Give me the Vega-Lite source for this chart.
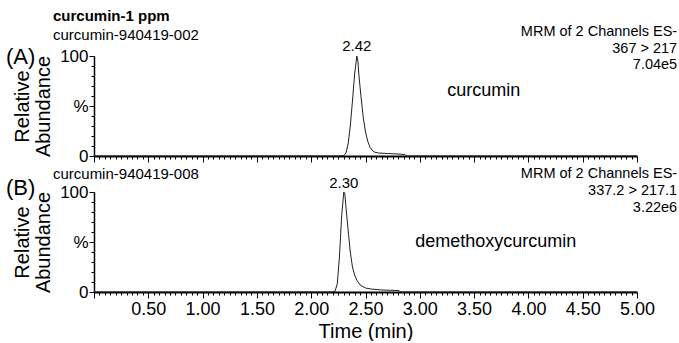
{
  "$schema": "https://vega.github.io/schema/vega-lite/v6.json",
  "padding": {"left": 6, "top": 9, "right": 2, "bottom": 0},
  "background": "white",
  "config": {
    "font": "Liberation Sans",
    "view": {"stroke": null},
    "axis": {"grid": false, "ticks": true, "labelOverlap": false, "labelFlush": false, "domainColor": "#000", "tickColor": "#000", "labelColor": "#000", "titleColor": "#000", "titleFontWeight": "normal", "labelFont": "Liberation Sans", "titleFont": "Liberation Sans"},
    "text": {"color": "#000"}
  },
  "spacing": 36,
  "bounds": "flush",
  "vconcat": [
    {
      "width": 543,
      "height": 100,
      "encoding": {
        "x": {"field": "t", "type": "quantitative", "scale": {"domain": [0, 5], "nice": false, "zero": false},
          "axis": {"values": [0,0.05,0.1,0.15,0.2,0.25,0.3,0.35,0.4,0.45,0.5,0.55,0.6,0.65,0.7,0.75,0.8,0.85,0.9,0.95,1,1.05,1.1,1.15,1.2,1.25,1.3,1.35,1.4,1.45,1.5,1.55,1.6,1.65,1.7,1.75,1.8,1.85,1.9,1.95,2,2.05,2.1,2.15,2.2,2.25,2.3,2.35,2.4,2.45,2.5,2.55,2.6,2.65,2.7,2.75,2.8,2.85,2.9,2.95,3,3.05,3.1,3.15,3.2,3.25,3.3,3.35,3.4,3.45,3.5,3.55,3.6,3.65,3.7,3.75,3.8,3.85,3.9,3.95,4,4.05,4.1,4.15,4.2,4.25,4.3,4.35,4.4,4.45,4.5,4.55,4.6,4.65,4.7,4.75,4.8,4.85,4.9,4.95,5],
            "labels": false, "title": null, "domainWidth": 2, "tickWidth": 1,
            "tickSize": {"condition": {"test": "abs(datum.value*2 - round(datum.value*2)) < 0.001", "value": 6}, "value": 3}}},
        "y": {"field": "v", "type": "quantitative", "scale": {"domain": [0, 100], "nice": false},
          "axis": {"values": [0,10,20,30,40,50,60,70,80,90,100], "labelExpr": "datum.value == 100 ? '100' : datum.value == 50 ? '%' : datum.value == 0 ? '0' : ''",
            "labelFontSize": 17, "labelOverlap": false, "labelFlush": false, "labelPadding": 1, "domainWidth": 1.5, "tickWidth": 1,
            "tickSize": {"condition": {"test": "datum.value % 50 == 0", "value": 5}, "value": 3},
            "title": ["Relative", "Abundance"], "titleFontSize": 20, "titleLineHeight": 21, "titlePadding": 6}}
      },
      "layer": [
        {
          "data": {"values": [
            {"t": 0, "v": 0}, {"t": 2.25, "v": 0}, {"t": 2.30, "v": 0.5}, {"t": 2.32, "v": 3}, {"t": 2.34, "v": 12}, {"t": 2.36, "v": 30}, {"t": 2.38, "v": 55}, {"t": 2.40, "v": 82}, {"t": 2.42, "v": 100}, {"t": 2.43, "v": 95}, {"t": 2.44, "v": 80}, {"t": 2.46, "v": 58}, {"t": 2.48, "v": 38}, {"t": 2.50, "v": 24}, {"t": 2.52, "v": 15}, {"t": 2.54, "v": 9}, {"t": 2.56, "v": 6}, {"t": 2.58, "v": 4}, {"t": 2.62, "v": 3}, {"t": 2.70, "v": 2.5}, {"t": 2.80, "v": 2}, {"t": 2.86, "v": 1.5}, {"t": 2.88, "v": 0}, {"t": 5, "v": 0}
          ]},
          "mark": {"type": "line", "color": "#222", "strokeWidth": 1, "clip": false}
        },
        {
          "data": {"values": [{"t": 2.42, "v": 100, "label": "2.42"}]},
          "mark": {"type": "text", "fontSize": 15, "baseline": "bottom", "dy": -2},
          "encoding": {"text": {"field": "label"}}
        },
        {
          "data": {"values": [{"t": 3.59, "v": 65, "label": "curcumin"}]},
          "mark": {"type": "text", "fontSize": 18, "baseline": "middle"},
          "encoding": {"text": {"field": "label"}}
        },
        {
          "data": {"values": [{"t": 5.37, "v": 124, "label": "MRM of 2 Channels ES-"}, {"t": 5.37, "v": 107, "label": "367 > 217"}, {"t": 5.37, "v": 91, "label": "7.04e5"}]},
          "mark": {"type": "text", "fontSize": 14.5, "align": "right", "baseline": "middle"},
          "encoding": {"text": {"field": "label"}}
        },
        {
          "data": {"values": [{"t": -0.81, "v": 99, "label": "(A)"}]},
          "mark": {"type": "text", "fontSize": 22, "align": "left", "baseline": "middle"},
          "encoding": {"text": {"field": "label"}}
        },
        {
          "data": {"values": [{"t": -0.378, "v": 140, "label": "curcumin-1 ppm"}]},
          "mark": {"type": "text", "fontSize": 15, "fontWeight": "bold", "align": "left", "baseline": "middle"},
          "encoding": {"text": {"field": "label"}}
        },
        {
          "data": {"values": [{"t": -0.378, "v": 121, "label": "curcumin-940419-002"}]},
          "mark": {"type": "text", "fontSize": 15, "align": "left", "baseline": "middle"},
          "encoding": {"text": {"field": "label"}}
        }
      ]
    },
    {
      "width": 543,
      "height": 100,
      "encoding": {
        "x": {"field": "t", "type": "quantitative", "scale": {"domain": [0, 5], "nice": false, "zero": false},
          "axis": {"values": [0,0.05,0.1,0.15,0.2,0.25,0.3,0.35,0.4,0.45,0.5,0.55,0.6,0.65,0.7,0.75,0.8,0.85,0.9,0.95,1,1.05,1.1,1.15,1.2,1.25,1.3,1.35,1.4,1.45,1.5,1.55,1.6,1.65,1.7,1.75,1.8,1.85,1.9,1.95,2,2.05,2.1,2.15,2.2,2.25,2.3,2.35,2.4,2.45,2.5,2.55,2.6,2.65,2.7,2.75,2.8,2.85,2.9,2.95,3,3.05,3.1,3.15,3.2,3.25,3.3,3.35,3.4,3.45,3.5,3.55,3.6,3.65,3.7,3.75,3.8,3.85,3.9,3.95,4,4.05,4.1,4.15,4.2,4.25,4.3,4.35,4.4,4.45,4.5,4.55,4.6,4.65,4.7,4.75,4.8,4.85,4.9,4.95,5],
            "labelExpr": "(abs(datum.value*2 - round(datum.value*2)) < 0.001 && datum.value > 0.01) ? format(datum.value, '.2f') : ''",
            "labelFontSize": 18, "labelOverlap": false, "labelFlush": false, "labelBound": false, "labelPadding": 2,
            "domainWidth": 2, "tickWidth": 1,
            "tickSize": {"condition": {"test": "abs(datum.value*2 - round(datum.value*2)) < 0.001", "value": 6}, "value": 3},
            "title": "Time (min)", "titleFontSize": 20, "titlePadding": 3}},
        "y": {"field": "v", "type": "quantitative", "scale": {"domain": [0, 100], "nice": false},
          "axis": {"values": [0,10,20,30,40,50,60,70,80,90,100], "labelExpr": "datum.value == 100 ? '100' : datum.value == 50 ? '%' : datum.value == 0 ? '0' : ''",
            "labelFontSize": 17, "labelOverlap": false, "labelFlush": false, "labelPadding": 1, "domainWidth": 1.5, "tickWidth": 1,
            "tickSize": {"condition": {"test": "datum.value % 50 == 0", "value": 5}, "value": 3},
            "title": ["Relative", "Abundance"], "titleFontSize": 20, "titleLineHeight": 21, "titlePadding": 6}}
      },
      "layer": [
        {
          "data": {"values": [
            {"t": 0, "v": 0}, {"t": 2.20, "v": 0}, {"t": 2.22, "v": 1}, {"t": 2.24, "v": 8}, {"t": 2.26, "v": 35}, {"t": 2.28, "v": 75}, {"t": 2.30, "v": 100}, {"t": 2.31, "v": 98}, {"t": 2.32, "v": 85}, {"t": 2.34, "v": 62}, {"t": 2.36, "v": 40}, {"t": 2.38, "v": 25}, {"t": 2.40, "v": 17}, {"t": 2.42, "v": 12}, {"t": 2.45, "v": 7}, {"t": 2.50, "v": 4}, {"t": 2.55, "v": 3}, {"t": 2.65, "v": 2}, {"t": 2.80, "v": 1.5}, {"t": 2.83, "v": 0}, {"t": 5, "v": 0}
          ]},
          "mark": {"type": "line", "color": "#222", "strokeWidth": 1, "clip": false}
        },
        {
          "data": {"values": [{"t": 2.30, "v": 100, "label": "2.30"}]},
          "mark": {"type": "text", "fontSize": 15, "baseline": "bottom", "dy": -1},
          "encoding": {"text": {"field": "label"}}
        },
        {
          "data": {"values": [{"t": 3.70, "v": 50, "label": "demethoxycurcumin"}]},
          "mark": {"type": "text", "fontSize": 18, "baseline": "middle"},
          "encoding": {"text": {"field": "label"}}
        },
        {
          "data": {"values": [{"t": 5.37, "v": 118, "label": "MRM of 2 Channels ES-"}, {"t": 5.37, "v": 101, "label": "337.2 > 217.1"}, {"t": 5.37, "v": 84, "label": "3.22e6"}]},
          "mark": {"type": "text", "fontSize": 14.5, "align": "right", "baseline": "middle"},
          "encoding": {"text": {"field": "label"}}
        },
        {
          "data": {"values": [{"t": -0.81, "v": 104, "label": "(B)"}]},
          "mark": {"type": "text", "fontSize": 22, "align": "left", "baseline": "middle"},
          "encoding": {"text": {"field": "label"}}
        },
        {
          "data": {"values": [{"t": -0.378, "v": 118, "label": "curcumin-940419-008"}]},
          "mark": {"type": "text", "fontSize": 15, "align": "left", "baseline": "middle"},
          "encoding": {"text": {"field": "label"}}
        }
      ]
    }
  ]
}
